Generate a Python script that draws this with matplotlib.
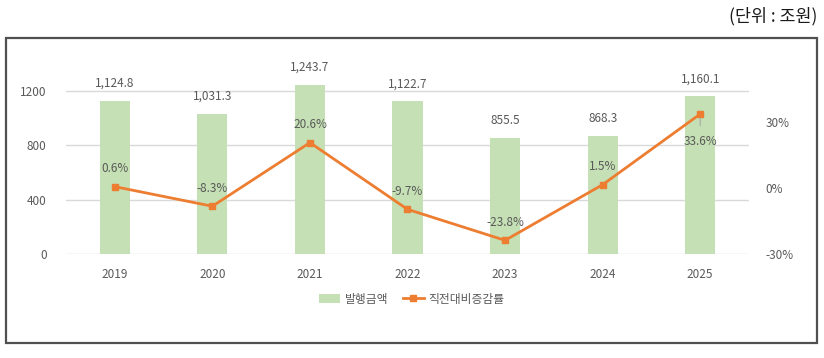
import matplotlib
matplotlib.use("Agg")
import matplotlib.pyplot as plt
from matplotlib.patches import Rectangle, Patch
from matplotlib.lines import Line2D

plt.rcParams['font.family'] = ['Noto Sans CJK KR', 'DejaVu Sans']

years = ['2019', '2020', '2021', '2022', '2023', '2024', '2025']
amounts = [1124.8, 1031.3, 1243.7, 1122.7, 855.5, 868.3, 1160.1]
changes = [0.6, -8.3, 20.6, -9.7, -23.8, 1.5, 33.6]
amount_labels = ['1,124.8', '1,031.3', '1,243.7', '1,122.7', '855.5', '868.3', '1,160.1']
left_ticks = [0, 400, 800, 1200]
right_ticks = [-30, 0, 30]

GREEN = '#c5e0b4'
ORANGE = '#ed7d31'
TXT = '#595959'

fig = plt.figure(figsize=(8.24, 3.58), dpi=100)
ax = fig.add_axes([66/824, 1-254/358, (749-66)/824, (254-70)/358])
x = list(range(len(years)))
ax.bar(x, amounts, width=0.31, color=GREEN, zorder=2)
ax.set_xlim(-0.5, len(years)-0.5)
ax.set_ylim(0, 1354)
ax.set_yticks(left_ticks)
ax.set_yticklabels([str(t) for t in left_ticks])
ax.grid(axis='y', color='#d9d9d9', linewidth=1, zorder=0)
ax.set_xticks(x)
ax.set_xticklabels(years)
ax.tick_params(axis='both', length=0, colors=TXT, labelsize=8.5)
ax.tick_params(axis='y', pad=14)
ax.tick_params(axis='x', pad=10)
for s in ax.spines.values():
    s.set_visible(False)
for xi, v, lab in zip(x, amounts, amount_labels):
    ax.annotate(lab, (xi, v), xytext=(0, 8), textcoords='offset points',
                ha='center', va='bottom', color=TXT, fontsize=8.5)

ax2 = ax.twinx()
ax2.plot(x, changes, color=ORANGE, linewidth=2, marker='s', markersize=4.5, zorder=3)
ax2.set_ylim(-30, 53.6)
ax2.set_yticks(right_ticks)
ax2.set_yticklabels([f'{t}%' for t in right_ticks])
ax2.tick_params(axis='y', length=0, colors=TXT, labelsize=8.5, pad=12)
for s in ax2.spines.values():
    s.set_visible(False)
for i, (xi, v) in enumerate(zip(x, changes)):
    if i == len(x) - 1:
        ax2.annotate(f'{v}%', (xi, v), xytext=(0, -20), textcoords='offset points',
                     ha='center', va='center', color=TXT, fontsize=8.5,
                     arrowprops=dict(arrowstyle='-', color='#a6a6a6', lw=0.8,
                                     shrinkA=5, shrinkB=3))
    else:
        ax2.annotate(f'{v}%', (xi, v), xytext=(0, 13), textcoords='offset points',
                     ha='center', va='center', color=TXT, fontsize=8.5)

handles = [Patch(facecolor=GREEN, edgecolor='none'),
           Line2D([0], [0], color=ORANGE, lw=2, marker='s', markersize=4.5)]
fig.legend(handles, ['발행금액', '직전대비증감률'], loc='center',
           bbox_to_anchor=(412/824, 1-299/358), ncol=2, frameon=False,
           fontsize=8.5, labelcolor=TXT, handlelength=1.8, columnspacing=1.2,
           handletextpad=0.4)

# outer frame
fig.patches.append(Rectangle((6/824, 1-343/358), (817-6)/824, (343-38)/358,
                             transform=fig.transFigure, fill=False,
                             edgecolor='#505050', linewidth=1.6, zorder=0))
fig.text(817/824, 1-16/358, '(단위 : 조원)', ha='right', va='center',
         fontsize=12.5, color='#1a1a1a')

fig.savefig('out.png', dpi=100)
